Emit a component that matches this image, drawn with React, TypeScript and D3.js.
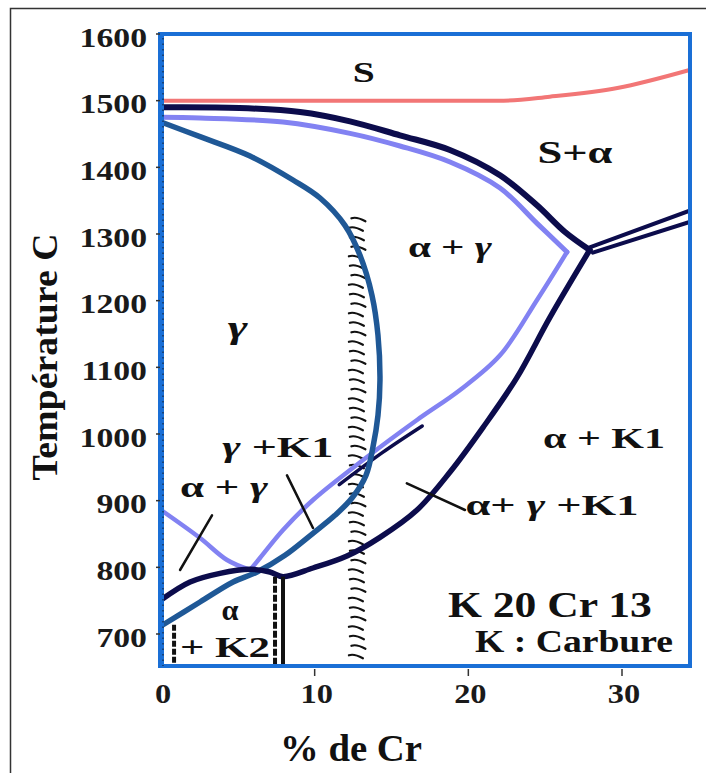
import React from 'react';
import * as d3 from 'd3';

const W = 706;
const H = 773;

// Axis ticks
const xTicks = [0, 10, 20, 30];
const yTicks = [700, 800, 900, 1000, 1100, 1200, 1300, 1400, 1500, 1600];

// Liquidus (S / S+alpha), red
const liquidusCr = [0, 10, 20, 22.3, 25.3, 29.7, 34.4];
const liquidusT = [1500, 1500, 1500, 1500, 1506, 1519, 1546];

// Solidus (upper navy)
const solidusCr = [0, 5.1, 9.05, 12.3, 15.55, 18.8, 22.06, 24.47, 26.29, 27.9];
const solidusT = [1490, 1489, 1483, 1469, 1448, 1426, 1388, 1343, 1303, 1276];

// Purple boundary: left branch, rising branch, upper branch
const purpleLeftCr = [0, 2.54, 4.3, 5.8];
const purpleLeftT = [886, 844, 811, 796];
const purpleRiseCr = [5.8, 6.44, 7.94, 9.89, 13.15, 16.66, 19.46, 22.06, 24.47, 26.42];
const purpleRiseT = [796, 814, 856, 901, 961, 1021, 1066, 1118, 1201, 1273];
const purpleTopCr = [0, 2.54, 7.94, 12.3, 15.55, 18.81, 22.06, 24.47, 26.42];
const purpleTopT = [1475, 1474, 1468, 1451, 1432, 1408, 1369, 1316, 1273];

// Gamma loop (steel blue)
const gammaCr = [0, 2.54, 5.79, 8.59, 10.35, 11.97, 12.95, 13.73, 14.12, 14.25, 14.12, 13.79, 13.34, 12.43, 11.32, 9.89, 8.07, 6.25, 4.69, 2.54, 0];
const gammaT = [1468, 1446, 1417, 1381, 1354, 1313, 1268, 1208, 1148, 1081, 1028, 980, 938, 904, 878, 851, 818, 793, 778, 748, 712];

// Lower navy boundary (alpha + K1)
const lowerCr = [0, 1.89, 3.84, 5.79, 7.09, 7.94, 9.89, 12.1, 14.25, 16.66, 18.81, 20.96, 23.17, 25.31, 27.9];
const lowerT = [751, 778, 791, 797, 793, 786, 799, 817, 845, 886, 943, 1010, 1085, 1175, 1276];

// Short navy line hugging the purple boundary
const innerCr = [11.6, 14.4, 17.0];
const innerT = [924, 972, 1012];

// Two lines from the triple point to the right edge
const rightUpperCr = [27.9, 34.4];
const rightUpperT = [1280, 1335];
const rightLowerCr = [28.1, 34.4];
const rightLowerT = [1272, 1318];

// Vertical boundaries at the bottom
const k2Cr = 0.85;
const k2Top = 714;
const dblCrA = 7.42;
const dblCrB = 7.94;
const dblTop = 786;
const tMin = 652;

// Hatched band
const hatchCr = 12.75;
const hatchTop = 1322;

// Leader lines [Cr1, T1, Cr2, T2]
const leaders = [
  [8.2, 938, 9.89, 859],
  [3.32, 878, 1.24, 796],
  [16.0, 926, 19.78, 886],
];

// Region labels
const labelText = ['S', 'S+α', 'α + γ', 'γ', 'γ +K1', 'α + γ', 'α + K1', 'α+ γ +K1', 'α', '+ K2', 'K 20 Cr 13', 'K : Carbure'];
const labelCr = [13.2, 26.94, 18.8, 5.0, 7.6, 4.1, 28.83, 25.44, 4.49, 4.16, 25.31, 26.88];
const labelT = [1528, 1406, 1265, 1144, 965, 905, 979, 878, 721, 665, 725, 673];
const labelSize = [30, 31, 29, 32, 30, 29, 30, 30, 30, 30, 36, 31];
const labelWidth = [22, 75, 84, 20, 111, 88, 122, 173, 17, 90, 204, 198];

const zip = (a: number[], b: number[]) => a.map((v, i) => [v, b[i]] as [number, number]);

const SERIF = '"Liberation Serif", "Times New Roman", serif';

function renderLabel(t: string) {
  const parts = t.split(/(γ)/);
  return parts.map((p, i) =>
    p === 'γ' ? (
      <tspan key={i} fontStyle="italic">γ</tspan>
    ) : (
      <tspan key={i}>{p}</tspan>
    )
  );
}

export default function App() {
  const x = d3.scaleLinear().domain([0, 30]).range([161, 622]);
  const y = d3.scaleLinear().domain([700, 1600]).range([634, 34]);

  const smooth = d3
    .line<[number, number]>()
    .x((d) => x(d[0]))
    .y((d) => y(d[1]))
    .curve(d3.curveCatmullRom.alpha(0.5));
  const mono = d3
    .line<[number, number]>()
    .x((d) => x(d[0]))
    .y((d) => y(d[1]))
    .curve(d3.curveMonotoneX);
  const straight = d3
    .line<[number, number]>()
    .x((d) => x(d[0]))
    .y((d) => y(d[1]));

  const frame = { x0: 160, y0: 34, x1: 690, y1: 666 };
  const navy = '#0c0c4c';
  const purple = '#8282f2';
  const steel = '#1f5896';
  const red = '#f27676';
  const frameBlue = '#1a6fd6';

  const hatchYs = d3.range(y(hatchTop), frame.y1 - 2, 9.5);

  return (
    <svg width={W} height={H} style={{ position: 'absolute', left: 0, top: 0, background: '#fff' }}>
      <defs>
        <clipPath id="plot">
          <rect x={frame.x0} y={frame.y0} width={frame.x1 - frame.x0} height={frame.y1 - frame.y0} />
        </clipPath>
      </defs>
      <rect x={0} y={0} width={W} height={H} fill="#fff" />
      <path d={`M10.5,${H} V8.5 H${W}`} fill="none" stroke="#333" strokeWidth={1.5} />

      <g clipPath="url(#plot)" fill="none" strokeLinecap="round" strokeLinejoin="round">
        {hatchYs.map((hy, i) => {
          const cx = x(hatchCr) + (i % 3 === 0 ? 1.5 : i % 3 === 1 ? -1 : 0);
          return (
            <path
              key={i}
              d={`M${cx - 7},${hy - 1} Q${cx - 2},${hy - 3} ${cx + 7},${hy + 2}`}
              stroke="#111"
              strokeWidth={2.2}
            />
          );
        })}
        <path d={mono(zip(liquidusCr, liquidusT)) || ''} stroke={red} strokeWidth={4} />
        <path d={smooth(zip(innerCr, innerT)) || ''} stroke={navy} strokeWidth={3.5} />
        <path d={smooth(zip(purpleTopCr, purpleTopT)) || ''} stroke={purple} strokeWidth={5} />
        <path d={smooth(zip(purpleRiseCr, purpleRiseT)) || ''} stroke={purple} strokeWidth={4.5} />
        <path d={smooth(zip(purpleLeftCr, purpleLeftT)) || ''} stroke={purple} strokeWidth={4.5} />
        <path d={smooth(zip(solidusCr, solidusT)) || ''} stroke={navy} strokeWidth={6} />
        <path d={smooth(zip(gammaCr, gammaT)) || ''} stroke={steel} strokeWidth={5.5} />
        <path d={smooth(zip(lowerCr, lowerT)) || ''} stroke={navy} strokeWidth={5.5} />
        <path d={straight(zip(rightUpperCr, rightUpperT)) || ''} stroke={navy} strokeWidth={4} />
        <path d={straight(zip(rightLowerCr, rightLowerT)) || ''} stroke={navy} strokeWidth={4} />
        <line x1={x(k2Cr)} x2={x(k2Cr)} y1={y(k2Top)} y2={y(tMin)} stroke="#111" strokeWidth={4} strokeDasharray="6 2" strokeLinecap="butt" />
        <line x1={x(dblCrA)} x2={x(dblCrA)} y1={y(dblTop)} y2={y(tMin)} stroke="#111" strokeWidth={4} strokeDasharray="7 2" strokeLinecap="butt" />
        <line x1={x(dblCrB)} x2={x(dblCrB)} y1={y(dblTop)} y2={y(tMin)} stroke="#111" strokeWidth={4} strokeLinecap="butt" />
        {leaders.map((l, i) => (
          <line key={i} x1={x(l[0])} y1={y(l[1])} x2={x(l[2])} y2={y(l[3])} stroke="#111" strokeWidth={2.5} />
        ))}
      </g>

      <rect
        x={frame.x0}
        y={frame.y0}
        width={frame.x1 - frame.x0}
        height={frame.y1 - frame.y0}
        fill="none"
        stroke={frameBlue}
        strokeWidth={4}
      />
      <line x1={frame.x0 + 1} x2={frame.x0 + 1} y1={frame.y0} y2={frame.y1} stroke={frameBlue} strokeWidth={6} />
      <line x1={frame.x0 + 3} x2={frame.x0 + 3} y1={frame.y0 + 4} y2={frame.y1} stroke="#111" strokeWidth={1.5} strokeDasharray="1.5 4" opacity={0.6} />

      {yTicks.map((t) => (
        <g key={t}>
          <line x1={frame.x0 - 4} x2={frame.x0} y1={y(t)} y2={y(t)} stroke="#333" strokeWidth={1.5} />
          <text
            transform={`translate(147,${y(t) + 3}) scale(1.25,1)`}
            dy="0.36em"
            textAnchor="end"
            fontFamily={SERIF}
            fontWeight="bold"
            fontSize={27}
            fill="#1a1a1a"
          >
            {t}
          </text>
        </g>
      ))}
      {xTicks.map((t) => (
        <g key={t}>
          {t > 0 && <line x1={x(t)} x2={x(t)} y1={frame.y1 + 3} y2={frame.y1 + 10} stroke="#333" strokeWidth={1.5} />}
          <text
            transform={`translate(${x(t) + 2},703) scale(1.2,1)`}
            textAnchor="middle"
            fontFamily={SERIF}
            fontWeight="bold"
            fontSize={27}
            fill="#1a1a1a"
          >
            {t}
          </text>
        </g>
      ))}

      <text
        transform="translate(57,357) rotate(-90)"
        textAnchor="middle"
        fontFamily={SERIF}
        fontWeight="bold"
        fontSize={36}
        textLength={247}
        lengthAdjust="spacingAndGlyphs"
        fill="#111"
      >
        Température C
      </text>
      <text
        x={351}
        y={761}
        textAnchor="middle"
        fontFamily={SERIF}
        fontWeight="bold"
        fontSize={38}
        textLength={142}
        lengthAdjust="spacingAndGlyphs"
        fill="#111"
      >
        % de Cr
      </text>

      {labelText.map((t, i) => (
        <text
          key={i}
          x={x(labelCr[i])}
          y={y(labelT[i])}
          textAnchor="middle"
          fontFamily={SERIF}
          fontWeight="bold"
          fontSize={labelSize[i]}
          textLength={labelWidth[i]}
          lengthAdjust="spacingAndGlyphs"
          fill="#111"
        >
          {renderLabel(t)}
        </text>
      ))}
    </svg>
  );
}
